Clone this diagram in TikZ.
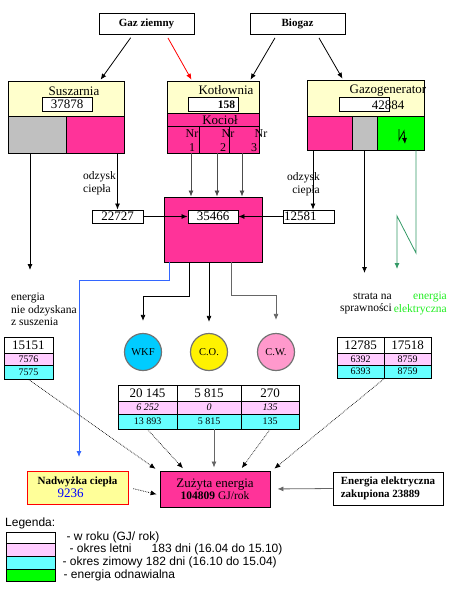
\documentclass[tikz,border=0pt]{standalone}
\usepackage{fontspec}
\setmainfont{Liberation Serif}
\newfontfamily\legfont{Liberation Sans}
\usepackage{tikz}
\usetikzlibrary{positioning,arrows.meta}
\definecolor{magbox}{HTML}{FF3399}
\definecolor{yelbox}{HTML}{FFFFCC}
\definecolor{graybox}{HTML}{C0C0C0}
\definecolor{greenbox}{HTML}{00FF00}
\definecolor{pinkrow}{HTML}{FFCCFF}
\definecolor{cyanrow}{HTML}{66FFFF}
\definecolor{wkfcol}{HTML}{00CCFF}
\definecolor{cwcol}{HTML}{FF99CC}
\definecolor{surplus}{HTML}{FFFF99}
\definecolor{lineblue}{HTML}{3366FF}
\definecolor{linegreen}{HTML}{339966}
\definecolor{txtgreen}{HTML}{22EE22}
\newcommand\setfs[2]{\fontsize{#1}{#2}\selectfont}
\tikzset{
  line/.style={-{Latex[length=6pt,width=5pt]}, line width=0.8pt},
  dotline/.style={line, line width=0.7pt, densely dotted},
  feed/.style={line, shorten <=4pt, shorten >=1pt},
  box/.style={draw, line width=0.9pt, inner sep=1pt, align=center},
  head/.style={box, minimum width=95pt, minimum height=21pt, font=\bfseries\setfs{11}{13}},
  valbox/.style={box, fill=white, minimum width=50pt, minimum height=14pt, font=\setfs{13}{15}},
  cellW/.style={box, fill=white, font=\setfs{13}{15}},
  cellP/.style={box, fill=pinkrow, font=\setfs{10}{12}},
  cellC/.style={box, fill=cyanrow, font=\setfs{10}{12}},
  unit/.style={circle, draw=black!55, line width=1.2pt, minimum size=37pt, inner sep=0pt, font=\setfs{10.5}{12}},
  ttl/.style={inner sep=0pt, font=\setfs{13}{15}},
  lbl/.style={inner sep=0pt, font=\setfs{11.5}{13}},
  legtxt/.style={inner sep=0pt, font=\legfont\setfs{12}{14}}
}
\begin{document}
\begin{tikzpicture}[x=1pt, y=-1pt, >={Latex[length=6pt,width=5pt]}]
  \useasboundingbox (0,0) rectangle (472,592);

  \node[head] (gaz) at (146.5,23.5) {Gaz ziemny};
  \node[head] (bio) at (297.5,23.5) {Biogaz};

  \node[box, fill=yelbox, minimum width=116pt, minimum height=35pt] (suszTop) at (66,98.5) {};
  \node[ttl, anchor=base] (suszName) at (74,95) {Suszarnia};
  \node[valbox] (suszVal) at (67,104) {37878};
  \node[box, fill=graybox, minimum width=58pt, minimum height=37pt] (suszGray) at (37,134.5) {};
  \node[box, fill=magbox, minimum width=58pt, minimum height=37pt] (suszMag) at (95,134.5) {};

  \node[box, fill=yelbox, minimum width=92pt, minimum height=32pt] (kotTop) at (213,97) {};
  \node[ttl, anchor=base] (kotName) at (226,94) {Kotłownia};
  \node[valbox, font=\bfseries\setfs{11.5}{13}, text width=44pt, align=right] (kotVal) at (213,104.5) {158};
  \node[box, fill=magbox, minimum width=92pt, minimum height=13pt] (kocRow) at (213,119.5) {};
  \node[ttl, anchor=base] (kocName) at (220,124) {Kocioł};
  \node[box, fill=magbox, minimum width=32pt, minimum height=27pt] (nr1) at (183,139.5) {};
  \node[box, fill=magbox, minimum width=30pt, minimum height=27pt] (nr2) at (214,139.5) {};
  \node[box, fill=magbox, minimum width=30pt, minimum height=27pt] (nr3) at (244,139.5) {};
  \node[lbl, font=\setfs{12}{14}, anchor=base] (nr1a) at (192,137) {Nr};
  \node[lbl, font=\setfs{12}{14}, anchor=base] (nr2a) at (228,137) {Nr};
  \node[lbl, font=\setfs{12}{14}, anchor=base] (nr3a) at (261,137) {Nr};
  \node[lbl, font=\setfs{12}{14}, anchor=base] (nr1b) at (192,151.5) {1};
  \node[lbl, font=\setfs{12}{14}, anchor=base] (nr2b) at (223,151.5) {2};
  \node[lbl, font=\setfs{12}{14}, anchor=base] (nr3b) at (254,151.5) {3};

  \node[box, fill=yelbox, minimum width=117pt, minimum height=36pt] (gazTop) at (365.5,98) {};
  \node[ttl, anchor=base] (gazName) at (388,93) {Gazogenerator};
  \node[valbox] (gazVal) at (364,104) {};
  \node[ttl, anchor=base] (gazNum) at (388,109) {42884};
  \node[box, fill=magbox, minimum width=45pt, minimum height=34pt] (gazMag) at (329.5,133) {};
  \node[box, fill=graybox, minimum width=25pt, minimum height=34pt] (gazGray) at (364.5,133) {};
  \node[box, fill=greenbox, minimum width=47pt, minimum height=34pt] (gazGreen) at (400.5,133) {};
  \draw[->, line width=0.8pt] (399,129) -- (399,140) -- (404,131) -- (405,144);

  \node[box, fill=magbox, minimum width=98pt, minimum height=65pt] (cent) at (213,229.5) {};
  \node[valbox, minimum height=13pt] (vCent) at (213,216.5) {35466};
  \node[valbox, minimum width=51pt, minimum height=13pt] (v22727) at (117.5,216.5) {22727};
  \node[valbox, minimum width=51pt, minimum height=13pt, text width=49pt, align=left] (v12581) at (308.5,216.5) {12581};

  \node[lbl, anchor=west, align=left] (odzL) at (83,183.5) {odzysk\\ciepła};
  \node[lbl, anchor=east, align=right] (odzR) at (320,184) {odzysk\\ciepła};
  \node[lbl, anchor=west, align=left, font=\setfs{11.5}{12.5}] (nieOdz) at (11,309.5) {energia\\nie odzyskana\\z suszenia};
  \node[lbl, anchor=east, align=right, font=\setfs{11.5}{12.5}] (strata) at (392,303.5) {strata na\\sprawności};
  \node[lbl, anchor=east, align=right, font=\setfs{11.5}{12.5}, text=txtgreen] (elek) at (447,303.5) {energia\\elektryczna};

  \node[unit, fill=wkfcol] (wkf) at (143,352) {WKF};
  \node[unit, fill=yellow] (co) at (209,352) {C.O.};
  \node[unit, fill=cwcol] (cw) at (276,352) {C.W.};

  \node[cellW, minimum width=49pt, minimum height=16pt] (t1W) at (28.5,345) {15151};
  \node[cellP, minimum width=49pt, minimum height=12pt] (t1P) at (28.5,359) {7576};
  \node[cellC, minimum width=49pt, minimum height=14pt] (t1C) at (28.5,372) {7575};

  \node[cellW, minimum width=59pt, minimum height=16pt] (m1W) at (147.5,393) {20 145};
  \node[cellW, minimum width=64pt, minimum height=16pt] (m2W) at (209,393) {5 815};
  \node[cellW, minimum width=58pt, minimum height=16pt] (m3W) at (270,393) {270};
  \node[cellP, font=\itshape\setfs{10}{12}, minimum width=59pt, minimum height=13pt] (m1P) at (147.5,407.5) {6 252};
  \node[cellP, font=\itshape\setfs{10}{12}, minimum width=64pt, minimum height=13pt] (m2P) at (209,407.5) {0};
  \node[cellP, font=\itshape\setfs{10}{12}, minimum width=58pt, minimum height=13pt] (m3P) at (270,407.5) {135};
  \node[cellC, minimum width=59pt, minimum height=15pt] (m1C) at (147.5,421.5) {13 893};
  \node[cellC, minimum width=64pt, minimum height=15pt] (m2C) at (209,421.5) {5 815};
  \node[cellC, minimum width=58pt, minimum height=15pt] (m3C) at (270,421.5) {135};

  \node[cellW, minimum width=47pt, minimum height=16pt] (r1W) at (360.5,345) {12785};
  \node[cellW, minimum width=47pt, minimum height=16pt] (r2W) at (407.5,345) {17518};
  \node[cellP, minimum width=47pt, minimum height=12pt] (r1P) at (360.5,359) {6392};
  \node[cellP, minimum width=47pt, minimum height=12pt] (r2P) at (407.5,359) {8759};
  \node[cellC, minimum width=47pt, minimum height=13pt] (r1C) at (360.5,371.5) {6393};
  \node[cellC, minimum width=47pt, minimum height=13pt] (r2C) at (407.5,371.5) {8759};

  \node[box, fill=magbox, minimum width=110pt, minimum height=36pt] (zuz) at (215,489) {\setfs{13}{14}Zużyta energia\\\setfs{11.5}{13}\textbf{104809} GJ/rok};
  \node[box, draw=red, fill=surplus, minimum width=101pt, minimum height=33pt, align=left, font=\setfs{11}{13}] (nadw) at (77.5,487.5) {\textbf{Nadwyżka ciepła}\\\hspace*{20pt}{\setfs{13}{14}\color{blue}9236}};
  \node[box, fill=white, minimum width=110pt, minimum height=33pt, align=left, font=\bfseries\setfs{11}{13}] (elekBuy) at (388,488.5) {Energia elektryczna\\zakupiona 23889};

  \draw[feed] ([xshift=-13.5pt]gaz.south) -- ([xshift=34pt]suszTop.north);
  \draw[feed, red] ([xshift=19.5pt]gaz.south) -- ([xshift=-21pt]kotTop.north);
  \draw[feed] ([xshift=-20.5pt]bio.south) -- ([xshift=37pt]kotTop.north);
  \draw[feed] ([xshift=19.5pt]bio.south) -- ([xshift=-22.5pt]gazTop.north);

  \coordinate (lossL) at (30,270);
  \draw[line] (suszGray.south -| lossL) -- (lossL);
  \draw[line] (suszMag.south -| v22727.north) -- (v22727.north);
  \foreach \xa/\cell in {191/nr1, 217/nr2, 242/nr3}
    \draw[line, black!70] (\xa,0 |- \cell.south) -- (\xa,0 |- cent.north);
  \draw[line] (v22727) -- (vCent);
  \draw[line] (v12581) -- (vCent);
  \draw[line] (313,0 |- gazMag.south) -- (313,0 |- v12581.north);
  \coordinate (lossR) at (364.5,273);
  \draw[line] (gazGray.south) -- (lossR);
  \coordinate (elecEnd) at (397,269);
  \draw[line, linegreen] (416,0 |- gazGreen.south) -- (416,253) -- (397,216) -- (elecEnd);

  \coordinate (surplusEnd) at (79,457);
  \draw[line, lineblue] (169,0 |- cent.south) -- (169,280) -| (surplusEnd);
  \draw[line, shorten >=12pt] (189,0 |- cent.south) -- (189,296) -| (wkf.north);
  \draw[line, shorten >=11pt] (co.north |- cent.south) -- (co.north);
  \draw[line, black!60, shorten >=13pt] (231,0 |- cent.south) -- (231,295) -| (cw.north);

  \draw[dotline, shorten >=3pt] (t1C.south) -- ([xshift=-57pt]zuz.north);
  \draw[dotline, shorten >=3pt] (m1C.south) -- ([xshift=-30pt]zuz.north);
  \draw[line, black!60, shorten >=3pt] (214,0 |- m2C.south) -- (214,0 |- zuz.north);
  \draw[dotline, shorten >=3pt] (m3C.south) -- ([xshift=25pt]zuz.north);
  \draw[dotline, shorten >=3pt] (r1C.south east) -- ([xshift=57pt]zuz.north);
  \draw[dotline, shorten <=5pt, shorten >=3pt] (nadw.east) -- ([yshift=-6pt]zuz.west);
  \draw[line, black!60, shorten >=7pt] (elekBuy.west) -- (zuz.east);

  \node[legtxt, anchor=west] (legTitle) at (5,523) {Legenda:};
  \node[box, fill=white, minimum width=49pt, minimum height=11pt] (legW) at (30.5,537.5) {};
  \node[box, fill=pinkrow, minimum width=49pt, minimum height=13pt] (legP) at (30.5,549.5) {};
  \node[box, fill=cyanrow, minimum width=49pt, minimum height=13pt] (legC) at (30.5,562.5) {};
  \node[box, fill=greenbox, minimum width=49pt, minimum height=12pt] (legG) at (30.5,575) {};
  \node[legtxt, right=11pt of legW] (legWt) {- w roku (GJ/ rok)};
  \node[legtxt, right=14pt of legP] (legPt) {- okres letni\hspace{20pt}183 dni (16.04 do 15.10)};
  \node[legtxt, right=7pt of legC] (legCt) {- okres zimowy 182 dni (16.10 do 15.04)};
  \node[legtxt, right=8pt of legG] (legGt) {- energia odnawialna};
\end{tikzpicture}
\end{document}
